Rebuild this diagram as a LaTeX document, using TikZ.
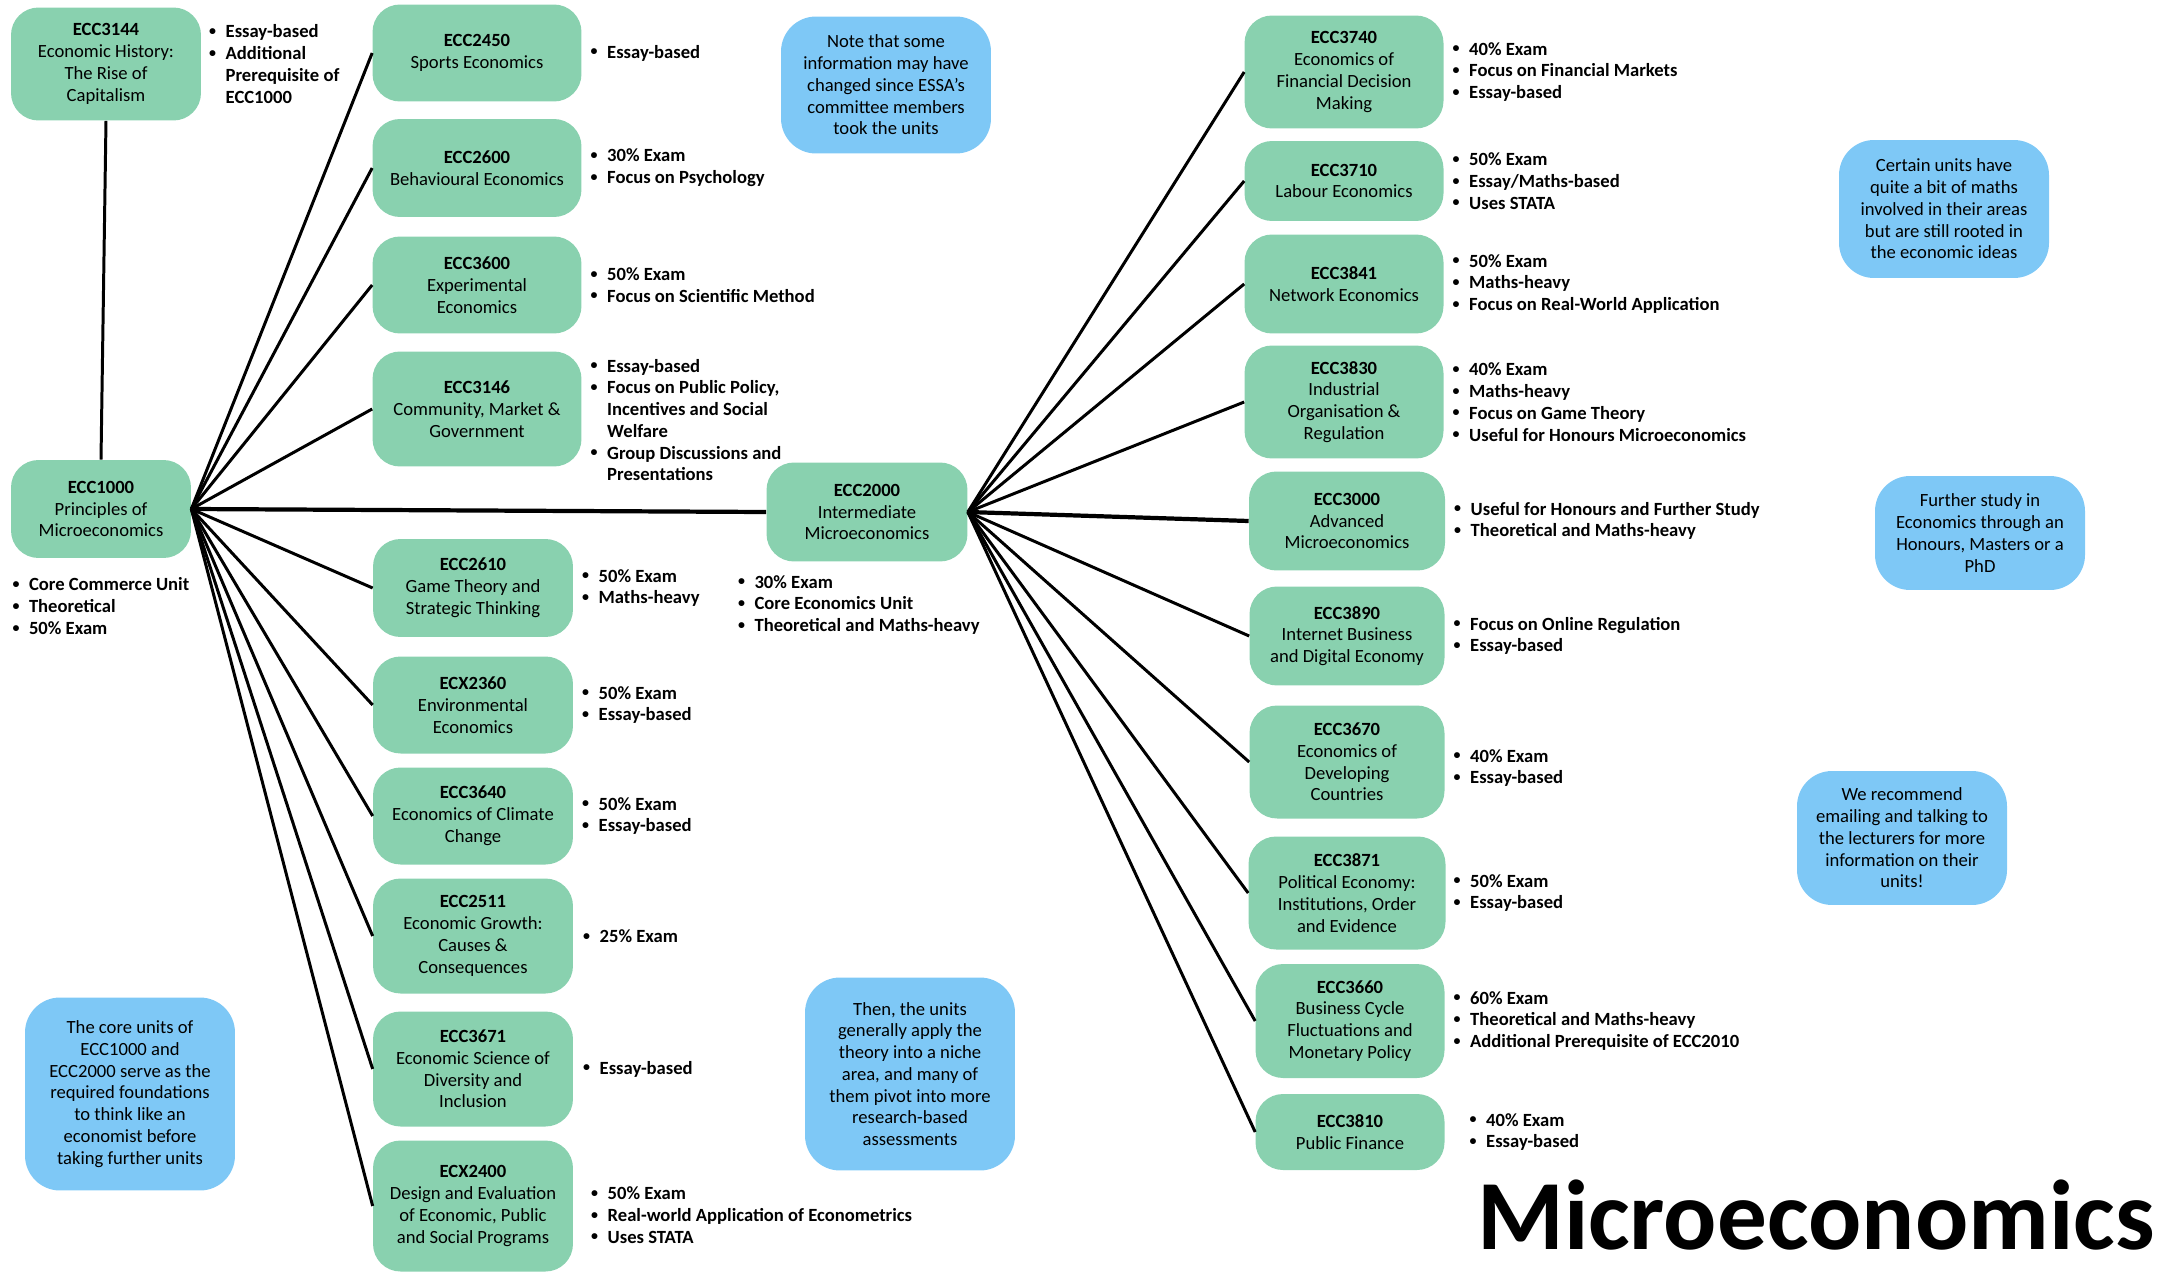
\documentclass[tikz,border=0pt]{standalone}
\usepackage{fontspec}
\setmainfont{Carlito}
\usepackage{graphicx}
\usepackage{tikz}
\usetikzlibrary{positioning,calc}
\definecolor{unitgreen}{RGB}{137,209,175}
\definecolor{noteblue}{RGB}{126,200,246}
\newcommand{\itm}{\makebox[0.36cm][l]{\hspace{0.03cm}\raisebox{0.25ex}{\scalebox{0.75}{\textbullet}}}}
\newcommand{\cont}{\hspace*{0.36cm}}

\begin{document}
\begin{tikzpicture}[
    x=0.02cm, y=-0.02cm,
    font=\fontsize{10.6}{12.4}\selectfont,
    unit/.style={rectangle, fill=unitgreen, rounded corners=0.55cm, minimum width=4.18cm, minimum height=1.94cm, align=center, inner sep=2pt},
    note/.style={rectangle, fill=noteblue, rounded corners=0.7cm, minimum width=4.2cm, align=center, inner sep=2pt},
    blist/.style={align=left, inner sep=0pt, font=\fontsize{10.6}{12.4}\selectfont\bfseries},
    link/.style={line width=1.7pt, draw=black},
    thicklink/.style={line width=2.4pt, draw=black},
]
\useasboundingbox (0,0) rectangle (2172,1274);

% === CORE UNITS ===
\node[unit, minimum width=3.8cm, minimum height=2.26cm] (c3144) at (106,64) {\textbf{ECC3144}\\Economic History:\\The Rise of\\Capitalism};
\node[unit, minimum width=3.6cm, minimum height=1.96cm] (c1000) at (101,509) {\textbf{ECC1000}\\Principles of\\Microeconomics};
\node[unit, minimum width=4.02cm, minimum height=1.98cm] (c2000) at (867,512) {\textbf{ECC2000}\\Intermediate\\Microeconomics};

% === SECOND YEAR / ELECTIVES FROM ECC1000 ===
\node[unit] (c2450) at (477,53) {\textbf{ECC2450}\\Sports Economics};
\node[unit, minimum height=1.96cm] (c2600) at (477,168) {\textbf{ECC2600}\\Behavioural Economics};
\node[unit] (c3600) at (477,285) {\textbf{ECC3600}\\Experimental\\Economics};
\node[unit, minimum height=2.3cm] (c3146) at (477,409) {\textbf{ECC3146}\\Community, Market \&\\Government};
\node[unit, minimum width=4cm, minimum height=1.96cm] (c2610) at (473,588) {\textbf{ECC2610}\\Game Theory and\\Strategic Thinking};
\node[unit, minimum width=4cm] (c2360) at (473,705) {\textbf{ECX2360}\\Environmental\\Economics};
\node[unit, minimum width=4cm] (c3640) at (473,816) {\textbf{ECC3640}\\Economics of Climate\\Change};
\node[unit, minimum width=4cm, minimum height=2.3cm] (c2511) at (473,936) {\textbf{ECC2511}\\Economic Growth:\\Causes \&\\Consequences};
\node[unit, minimum width=4cm, minimum height=2.3cm] (c3671) at (473,1069) {\textbf{ECC3671}\\Economic Science of\\Diversity and\\Inclusion};
\node[unit, minimum width=4cm, minimum height=2.62cm] (c2400) at (473,1206) {\textbf{ECX2400}\\Design and Evaluation\\of Economic, Public\\and Social Programs};

% === THIRD YEAR FROM ECC2000 ===
\node[unit, minimum width=3.98cm, minimum height=2.26cm] (c3740) at (1344,72) {\textbf{ECC3740}\\Economics of\\Financial Decision\\Making};
\node[unit, minimum width=3.98cm, minimum height=1.6cm] (c3710) at (1344,181) {\textbf{ECC3710}\\Labour Economics};
\node[unit, minimum width=3.98cm, minimum height=1.98cm] (c3841) at (1344,284) {\textbf{ECC3841}\\Network Economics};
\node[unit, minimum width=3.98cm, minimum height=2.26cm] (c3830) at (1344,402) {\textbf{ECC3830}\\Industrial\\Organisation \&\\Regulation};
\node[unit, minimum width=3.92cm, minimum height=1.98cm] (c3000) at (1347,521) {\textbf{ECC3000}\\Advanced\\Microeconomics};
\node[unit, minimum width=3.9cm, minimum height=1.98cm] (c3890) at (1347,636) {\textbf{ECC3890}\\Internet Business\\and Digital Economy};
\node[unit, minimum width=3.9cm, minimum height=2.26cm] (c3670) at (1347,762) {\textbf{ECC3670}\\Economics of\\Developing\\Countries};
\node[unit, minimum width=3.94cm, minimum height=2.26cm] (c3871) at (1347,893) {\textbf{ECC3871}\\Political Economy:\\Institutions, Order\\and Evidence};
\node[unit, minimum width=3.78cm, minimum height=2.28cm] (c3660) at (1350,1021) {\textbf{ECC3660}\\Business Cycle\\Fluctuations and\\Monetary Policy};
\node[unit, minimum width=3.78cm, minimum height=1.52cm] (c3810) at (1350,1132) {\textbf{ECC3810}\\Public Finance};

% === BULLET LISTS ===
\node[blist, right=0.12cm of c3144] (l3144) {\itm Essay-based\\\itm Additional\\\cont Prerequisite of\\\cont ECC1000};
\node[blist, anchor=north west] (l1000) at ([yshift=-0.38cm]c1000.south west) {\itm Core Commerce Unit\\\itm Theoretical\\\itm 50\% Exam};
\node[blist, anchor=north west] (l2000) at ([xshift=-0.6cm, yshift=-0.26cm]c2000.south west) {\itm 30\% Exam\\\itm Core Economics Unit\\\itm Theoretical and Maths-heavy};

\node[blist, right=0.14cm of c2450] (l2450) {\itm Essay-based};
\node[blist, right=0.14cm of c2600] (l2600) {\itm 30\% Exam\\\itm Focus on Psychology};
\node[blist, right=0.14cm of c3600] (l3600) {\itm 50\% Exam\\\itm Focus on Scientific Method};
\node[blist, right=0.14cm of c3146, yshift=-0.22cm] (l3146) {\itm Essay-based\\\itm Focus on Public Policy,\\\cont Incentives and Social\\\cont Welfare\\\itm Group Discussions and\\\cont Presentations};
\node[blist, right=0.14cm of c2610] (l2610) {\itm 50\% Exam\\\itm Maths-heavy};
\node[blist, right=0.14cm of c2360] (l2360) {\itm 50\% Exam\\\itm Essay-based};
\node[blist, right=0.14cm of c3640] (l3640) {\itm 50\% Exam\\\itm Essay-based};
\node[blist, right=0.16cm of c2511] (l2511) {\itm 25\% Exam};
\node[blist, right=0.16cm of c3671] (l3671) {\itm Essay-based};
\node[blist, right=0.32cm of c2400, yshift=-0.18cm] (l2400) {\itm 50\% Exam\\\itm Real-world Application of Econometrics\\\itm Uses STATA};

\node[blist, right=0.14cm of c3740] (l3740) {\itm 40\% Exam\\\itm Focus on Financial Markets\\\itm Essay-based};
\node[blist, right=0.14cm of c3710] (l3710) {\itm 50\% Exam\\\itm Essay/Maths-based\\\itm Uses STATA};
\node[blist, right=0.14cm of c3841] (l3841) {\itm 50\% Exam\\\itm Maths-heavy\\\itm Focus on Real-World Application};
\node[blist, right=0.14cm of c3830] (l3830) {\itm 40\% Exam\\\itm Maths-heavy\\\itm Focus on Game Theory\\\itm Useful for Honours Microeconomics};
\node[blist, right=0.14cm of c3000] (l3000) {\itm Useful for Honours and Further Study\\\itm Theoretical and Maths-heavy};
\node[blist, right=0.14cm of c3890] (l3890) {\itm Focus on Online Regulation\\\itm Essay-based};
\node[blist, right=0.14cm of c3670, yshift=-0.12cm] (l3670) {\itm 40\% Exam\\\itm Essay-based};
\node[blist, right=0.12cm of c3871] (l3871) {\itm 50\% Exam\\\itm Essay-based};
\node[blist, right=0.14cm of c3660] (l3660) {\itm 60\% Exam\\\itm Theoretical and Maths-heavy\\\itm Additional Prerequisite of ECC2010};
\node[blist, right=0.46cm of c3810] (l3810) {\itm 40\% Exam\\\itm Essay-based};

% === NOTES ===
\node[note, minimum height=2.74cm] (nchanged) at (886,85) {Note that some\\information may have\\changed since ESSA’s\\committee members\\took the units};
\node[note, minimum height=2.76cm] (nmaths) at (1944,209) {Certain units have\\quite a bit of maths\\involved in their areas\\but are still rooted in\\the economic ideas};
\node[note, minimum height=2.28cm] (nfurther) at (1980,533) {Further study in\\Economics through an\\Honours, Masters or a\\PhD};
\node[note, minimum height=2.68cm] (nemail) at (1902,838) {We recommend\\emailing and talking to\\the lecturers for more\\information on their\\units!};
\node[note, minimum height=3.86cm] (ncore) at (130,1094) {The core units of\\ECC1000 and\\ECC2000 serve as the\\required foundations\\to think like an\\economist before\\taking further units};
\node[note, minimum height=3.86cm] (nniche) at (910,1074) {Then, the units\\generally apply the\\theory into a niche\\area, and many of\\them pivot into more\\research-based\\assessments};

% === TITLE ===
\node[anchor=base east, inner sep=0pt, font=\fontsize{56.5}{60}\selectfont\bfseries] (title) at (2155,1249) {Microeconomics};

% === LINKS ===
\draw[link] (c3144.south) -- (c1000.north);
\draw[thicklink] (c1000.east) -- (c2000.west);

\draw[link] (c1000.east) -- (c2450.west);
\draw[link] (c1000.east) -- (c2600.west);
\draw[link] (c1000.east) -- (c3600.west);
\draw[link] (c1000.east) -- (c3146.west);
\draw[link] (c1000.east) -- (c2610.west);
\draw[link] (c1000.east) -- (c2360.west);
\draw[link] (c1000.east) -- (c3640.west);
\draw[link] (c1000.east) -- (c2511.west);
\draw[link] (c1000.east) -- (c3671.west);
\draw[link] (c1000.east) -- (c2400.west);

\draw[link] (c2000.east) -- (c3740.west);
\draw[link] (c2000.east) -- (c3710.west);
\draw[link] (c2000.east) -- (c3841.west);
\draw[link] (c2000.east) -- (c3830.west);
\draw[thicklink] (c2000.east) -- (c3000.west);
\draw[link] (c2000.east) -- (c3890.west);
\draw[link] (c2000.east) -- (c3670.west);
\draw[link] (c2000.east) -- (c3871.west);
\draw[link] (c2000.east) -- (c3660.west);
\draw[link] (c2000.east) -- (c3810.west);

\end{tikzpicture}
\end{document}
